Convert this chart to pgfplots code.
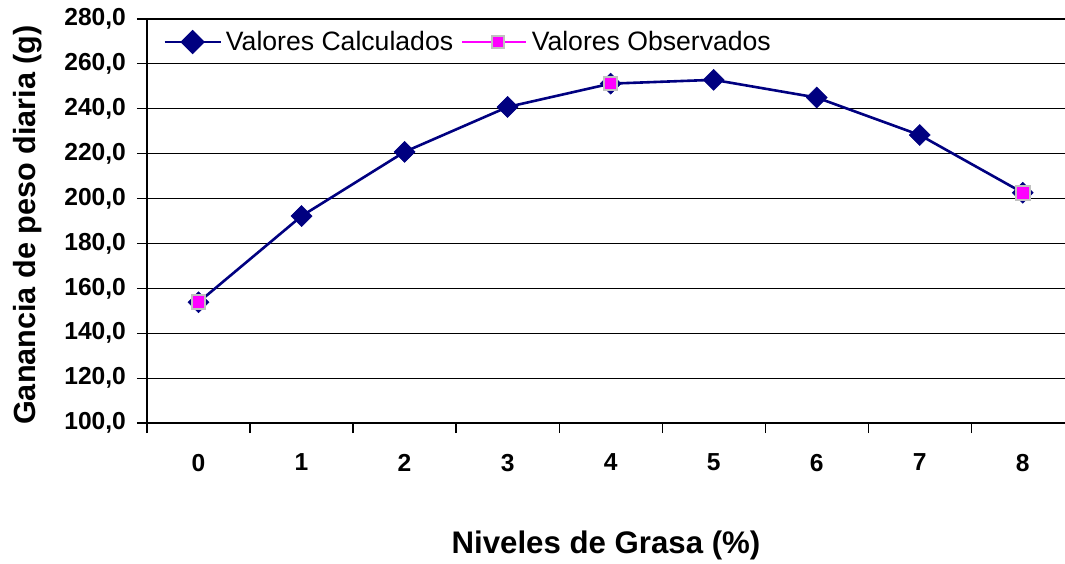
\documentclass[border=0pt]{standalone}
\usepackage{pgfplots}
\pgfplotsset{compat=1.18}
\usepackage{fontspec}
\setmainfont{Liberation Sans}
\definecolor{navyline}{RGB}{0,0,128}
\definecolor{obsmag}{RGB}{255,0,255}
\definecolor{obsgray}{RGB}{192,192,192}
\begin{document}
\begin{tikzpicture}
\begin{axis}[
  at={(0,0)}, anchor=south west,
  scale only axis,
  width=459pt, height=202pt,
  xmin=-0.5, xmax=8.41,
  ymin=100, ymax=280,
  axis x line*=bottom, axis y line*=left,
  axis line style={black, line width=0.6pt},
  xtick={0,...,8},
  xticklabels={0,1,2,3,4,5,6,7,8},
  major x tick style={draw=none},
  minor xtick={-0.5,0.5,...,7.5},
  minor tick length=5pt,
  xtick align=outside,
  ytick={100,120,...,280},
  yticklabels={{100,0},{120,0},{140,0},{160,0},{180,0},{200,0},{220,0},{240,0},{260,0},{280,0}},
  ytick align=outside,
  major tick length=5pt,
  tick style={black, line width=0.6pt},
  ymajorgrids,
  major grid style={black, line width=0.6pt},
  ticklabel style={font=\fontsize{12.3}{14}\selectfont\bfseries},
  xticklabel style={yshift=-7pt},
  yticklabel style={xshift=-2pt},
  legend columns=2,
  legend style={at={(rel axis cs:0.0174,0.943)}, anchor=west, draw=none, fill=white,
    font=\fontsize{13.3}{15}\selectfont, inner sep=0pt,
    /tikz/every even column/.append style={column sep=2pt}},
  legend cell align=left,
  clip=false,
]
\addplot[navyline, line width=1.3pt, mark=square*, mark size=3.7pt,
  mark options={rotate=45, fill=navyline, draw=navyline, line width=0.3pt},
  legend image code/.code={
    \draw[navyline, line width=1.3pt] (0pt,0pt) -- (28pt,0pt);
    \fill[navyline] (14pt,5.2pt) -- (19.2pt,0pt) -- (14pt,-5.2pt) -- (8.8pt,0pt) -- cycle;
  }]
  coordinates {(0,153.8) (1,192.2) (2,220.8) (3,240.8) (4,251.2) (5,252.9) (6,245.0) (7,228.3) (8,202.6)};
\addlegendentry{Valores Calculados}
\addplot[only marks, mark=square*, mark size=3.4pt,
  mark options={fill=obsmag, draw=obsgray, line width=1pt},
  legend image code/.code={
    \draw[obsmag, line width=1.3pt] (0pt,0pt) -- (32pt,0pt);
    \filldraw[fill=obsmag, draw=obsgray, line width=1pt] (15pt,-3pt) rectangle (21pt,3pt);
  }]
  coordinates {(0,153.8) (4,251.2) (8,202.6)};
\addlegendentry{Valores Observados}
\end{axis}
\node[font=\fontsize{15.6}{18}\selectfont\bfseries] at (229.5pt,-61pt) {Niveles de Grasa (\%)};
\node[font=\fontsize{15.3}{18}\selectfont\bfseries, rotate=90] at (-59.5pt,99pt) {Ganancia de peso diaria (g)};
\pgfresetboundingbox
\path[use as bounding box] (-73.5pt,-70pt) rectangle (459pt,211.5pt);
\end{tikzpicture}
\end{document}
